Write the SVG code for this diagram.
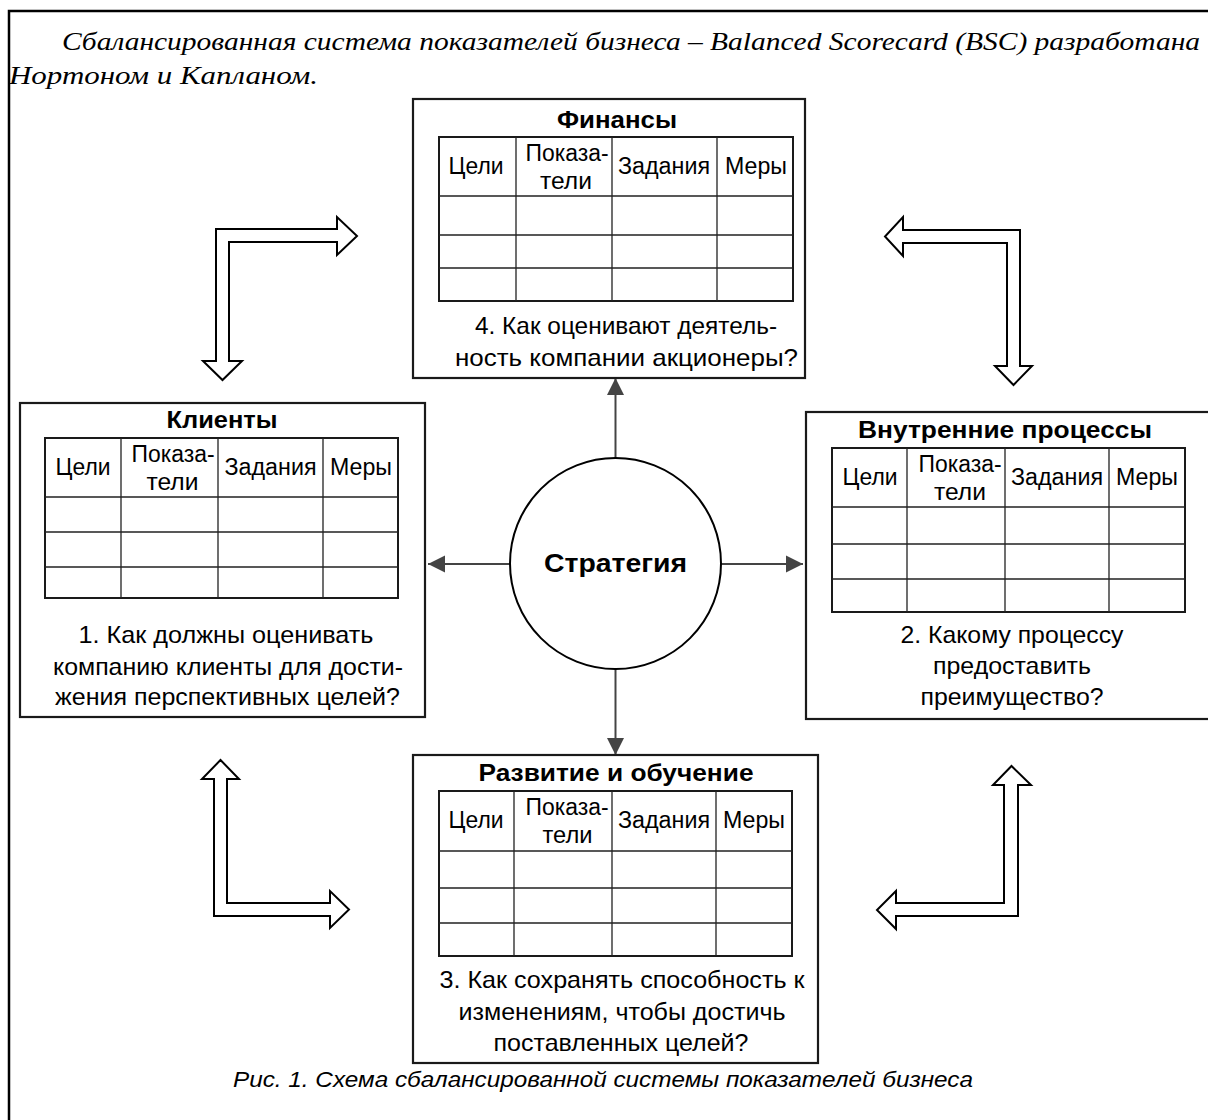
<svg xmlns="http://www.w3.org/2000/svg" width="1208" height="1120" viewBox="0 0 1208 1120">
<defs>
<style>
.frame{fill:none;stroke:#000;stroke-width:2.5}
.box{fill:#fff;stroke:#1a1a1a;stroke-width:2.2}
.tbl{fill:none;stroke:#1a1a1a;stroke-width:2}
.grid{stroke:#222;stroke-width:1.3}
.t{font-family:"Liberation Sans",Arial,sans-serif;fill:#000;text-anchor:middle}
.title{font-size:24px;font-weight:bold}
.hd{font-size:23px}
.q{font-size:24px}
.conn{stroke:#444;stroke-width:2;fill:none}
.block{fill:#fff;stroke:#000;stroke-width:2;stroke-linejoin:miter}
.intro{font-family:"Liberation Serif","Times New Roman",serif;font-style:italic;font-size:26px;fill:#000}
.cap{font-family:"Liberation Sans",Arial,sans-serif;font-style:italic;font-size:22px;fill:#000;text-anchor:middle}
</style>
<marker id="ah" markerUnits="userSpaceOnUse" markerWidth="18" markerHeight="18" refX="17" refY="9" orient="auto">
<path d="M0,0.5 L17,9 L0,17.5 z" fill="#444"/>
</marker>
</defs>
<rect class="frame" x="9" y="11" width="1212" height="1122"/>
<text class="intro" x="62" y="50" textLength="1138" lengthAdjust="spacingAndGlyphs">Сбалансированная система показателей бизнеса – Balanced Scorecard (BSC) разработана</text>
<text class="intro" x="9" y="84" textLength="309" lengthAdjust="spacingAndGlyphs">Нортоном и Капланом.</text>

<g id="connectors">
<line class="conn" x1="615.5" y1="458" x2="615.5" y2="378" marker-end="url(#ah)"/>
<line class="conn" x1="510" y1="564" x2="428" y2="564" marker-end="url(#ah)"/>
<line class="conn" x1="721" y1="564" x2="803" y2="564" marker-end="url(#ah)"/>
<line class="conn" x1="615.5" y1="669" x2="615.5" y2="755" marker-end="url(#ah)"/>
<polygon class="block" points="216,229 337,229 337,217 357,236 337,255 337,242 229,242 229,361 242,361 222.5,380 203,361 216,361"/>
<polygon class="block" points="1020,230 903,230 903,217 885,236.5 903,256 903,243 1007,243 1007,366 995,366 1013.5,385 1032,366 1020,366"/>
<polygon class="block" points="214,916 214,779 202,779 220.5,760 239,779 227,779 227,903 330,903 330,891 349,909.5 330,928 330,916"/>
<polygon class="block" points="1018,916 1018,785 1031,785 1011.5,766 993,785 1004,785 1004,903 896,903 896,891 877,910 896,929 896,916"/>
</g>

<g id="strategy">
<circle cx="615.5" cy="563.5" r="105.5" fill="#fff" stroke="#000" stroke-width="2"/>
<text class="t" x="615.5" y="572" style="font-size:26px;font-weight:bold" textLength="143" lengthAdjust="spacingAndGlyphs">Стратегия</text>
</g>

<g id="finance">
<rect class="box" x="413" y="99" width="392" height="279"/>
<text class="t title" x="617" y="128" textLength="120" lengthAdjust="spacingAndGlyphs">Финансы</text>
<rect class="tbl" x="439" y="137" width="354" height="164"/>
<path class="grid" d="M516,137V301M612,137V301M717,137V301M439,196H793M439,235H793M439,268H793"/>
<text class="t hd" x="476" y="174" textLength="55" lengthAdjust="spacingAndGlyphs">Цели</text>
<text class="t hd" x="567" y="161" textLength="83" lengthAdjust="spacingAndGlyphs">Показа-</text>
<text class="t hd" x="566" y="189" textLength="52" lengthAdjust="spacingAndGlyphs">тели</text>
<text class="t hd" x="664" y="174" textLength="92" lengthAdjust="spacingAndGlyphs">Задания</text>
<text class="t hd" x="756" y="174" textLength="62" lengthAdjust="spacingAndGlyphs">Меры</text>
<text class="t q" x="626" y="334" textLength="302" lengthAdjust="spacingAndGlyphs">4. Как оценивают деятель-</text>
<text class="t q" x="626.5" y="366" textLength="343" lengthAdjust="spacingAndGlyphs">ность компании акционеры?</text>
</g>

<g id="clients">
<rect class="box" x="20" y="403" width="405" height="314"/>
<text class="t title" x="222" y="428" textLength="111" lengthAdjust="spacingAndGlyphs">Клиенты</text>
<rect class="tbl" x="45" y="438" width="353" height="160"/>
<path class="grid" d="M121,438V598M218,438V598M323,438V598M45,497H398M45,532H398M45,567H398"/>
<text class="t hd" x="83" y="475" textLength="55" lengthAdjust="spacingAndGlyphs">Цели</text>
<text class="t hd" x="173" y="462" textLength="83" lengthAdjust="spacingAndGlyphs">Показа-</text>
<text class="t hd" x="172.5" y="490" textLength="52" lengthAdjust="spacingAndGlyphs">тели</text>
<text class="t hd" x="270.5" y="475" textLength="92" lengthAdjust="spacingAndGlyphs">Задания</text>
<text class="t hd" x="361" y="475" textLength="62" lengthAdjust="spacingAndGlyphs">Меры</text>
<text class="t q" x="226" y="643" textLength="295" lengthAdjust="spacingAndGlyphs">1. Как должны оценивать</text>
<text class="t q" x="228" y="675" textLength="350" lengthAdjust="spacingAndGlyphs">компанию клиенты для дости-</text>
<text class="t q" x="227.5" y="705" textLength="345" lengthAdjust="spacingAndGlyphs">жения перспективных целей?</text>
</g>

<g id="processes">
<rect class="box" x="806" y="412" width="408" height="307"/>
<text class="t title" x="1005" y="438" textLength="294" lengthAdjust="spacingAndGlyphs">Внутренние процессы</text>
<rect class="tbl" x="832" y="448" width="353" height="164"/>
<path class="grid" d="M907,448V612M1005,448V612M1109,448V612M832,507H1185M832,544H1185M832,579H1185"/>
<text class="t hd" x="870" y="485" textLength="55" lengthAdjust="spacingAndGlyphs">Цели</text>
<text class="t hd" x="960" y="472" textLength="83" lengthAdjust="spacingAndGlyphs">Показа-</text>
<text class="t hd" x="960" y="500" textLength="52" lengthAdjust="spacingAndGlyphs">тели</text>
<text class="t hd" x="1057" y="485" textLength="92" lengthAdjust="spacingAndGlyphs">Задания</text>
<text class="t hd" x="1147" y="485" textLength="62" lengthAdjust="spacingAndGlyphs">Меры</text>
<text class="t q" x="1012" y="643" textLength="223" lengthAdjust="spacingAndGlyphs">2. Какому процессу</text>
<text class="t q" x="1012" y="674" textLength="158" lengthAdjust="spacingAndGlyphs">предоставить</text>
<text class="t q" x="1012" y="705" textLength="183" lengthAdjust="spacingAndGlyphs">преимущество?</text>
</g>

<g id="learning">
<rect class="box" x="413" y="755" width="405" height="308"/>
<text class="t title" x="616" y="781" textLength="275" lengthAdjust="spacingAndGlyphs">Развитие и обучение</text>
<rect class="tbl" x="439" y="791" width="353" height="165"/>
<path class="grid" d="M514,791V956M612,791V956M716,791V956M439,851H792M439,888H792M439,923H792"/>
<text class="t hd" x="476" y="828" textLength="55" lengthAdjust="spacingAndGlyphs">Цели</text>
<text class="t hd" x="567" y="815" textLength="83" lengthAdjust="spacingAndGlyphs">Показа-</text>
<text class="t hd" x="567.5" y="843" textLength="50" lengthAdjust="spacingAndGlyphs">тели</text>
<text class="t hd" x="664" y="828" textLength="92" lengthAdjust="spacingAndGlyphs">Задания</text>
<text class="t hd" x="754" y="828" textLength="62" lengthAdjust="spacingAndGlyphs">Меры</text>
<text class="t q" x="622" y="988" textLength="365" lengthAdjust="spacingAndGlyphs">3. Как сохранять способность к</text>
<text class="t q" x="622" y="1020" textLength="327" lengthAdjust="spacingAndGlyphs">изменениям, чтобы достичь</text>
<text class="t q" x="621" y="1051" textLength="255" lengthAdjust="spacingAndGlyphs">поставленных целей?</text>
</g>

<text class="cap" x="603" y="1087" textLength="740" lengthAdjust="spacingAndGlyphs">Рис. 1. Схема сбалансированной системы показателей бизнеса</text>
</svg>
